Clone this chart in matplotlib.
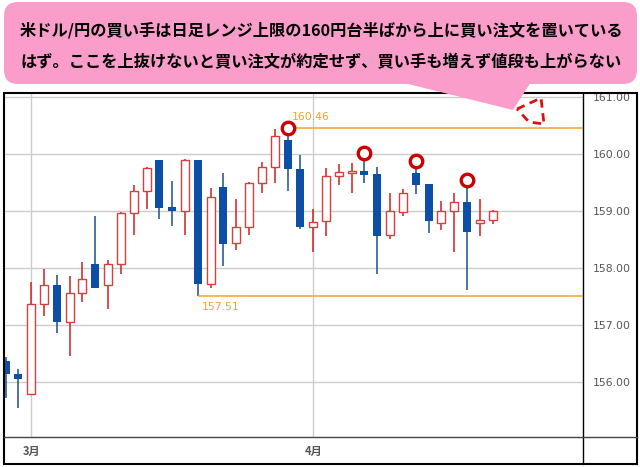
import numpy as np
import matplotlib
matplotlib.use("Agg")
import matplotlib.pyplot as plt
from matplotlib.patches import FancyBboxPatch, Polygon, Rectangle

plt.rcParams['font.family'] = ['Noto Sans CJK JP', 'DejaVu Sans']

# daily candles (USD/JPY)
opens = [156.38, 156.15, 155.79, 157.37, 157.71, 157.05, 157.56, 158.07, 157.70, 158.07,
         158.96, 159.36, 159.90, 159.07, 159.01, 159.90, 157.72, 159.42, 158.44, 158.72,
         159.49, 159.77, 160.25, 159.73, 158.73, 158.82, 159.61, 159.66, 159.70, 159.65,
         158.58, 158.99, 159.67, 159.48, 158.80, 159.01, 159.16, 158.80, 158.84]
highs = [156.45, 156.24, 157.76, 157.99, 157.88, 157.86, 158.10, 158.91, 158.14, 158.99,
         159.45, 159.77, 159.90, 159.52, 159.91, 159.90, 159.40, 159.67, 159.21, 159.51,
         159.86, 160.44, 160.46, 159.98, 159.03, 159.76, 159.83, 159.85, 160.02, 159.77,
         159.32, 159.39, 159.87, 159.48, 159.18, 159.32, 159.55, 159.22, 159.02]
lows = [155.73, 155.56, 155.79, 157.17, 156.87, 156.47, 157.40, 157.66, 157.28, 157.89,
        158.59, 159.03, 158.87, 158.74, 158.59, 157.51, 157.66, 158.04, 158.31, 158.59,
        159.31, 159.49, 159.36, 158.69, 158.29, 158.56, 159.45, 159.32, 159.50, 157.90,
        158.51, 158.91, 159.30, 158.62, 158.67, 158.29, 157.61, 158.57, 158.77]
closes = [156.14, 156.06, 157.37, 157.71, 157.05, 157.56, 157.81, 157.66, 158.07, 158.96,
          159.36, 159.75, 159.06, 159.01, 159.90, 157.72, 159.24, 158.43, 158.72, 159.49,
          159.77, 160.32, 159.74, 158.73, 158.81, 159.61, 159.68, 159.70, 159.64, 158.57,
          159.00, 159.31, 159.46, 158.82, 159.00, 159.16, 158.63, 158.84, 159.00]

yticks = [156, 157, 158, 159, 160, 161]
month_idx = [2, 24]
month_labels = ['3月', '4月']

range_high = 160.46
range_high_idx = 22
range_low = 157.51
range_low_idx = 15
marked = [22, 28, 32, 36]  # highs circled in red

title_lines = ['米ドル/円の買い手は日足レンジ上限の160円台半ばから上に買い注文を置いている',
               'はず。ここを上抜けないと買い注文が約定せず、買い手も増えず値段も上がらない']

BLUE = '#0d4ea6'
RED = '#dd3c3c'
ORANGE = '#f2a42a'

W, H = 640, 467
fig = plt.figure(figsize=(W / 100, H / 100), dpi=100)

# chart area in pixels: x 4..583, y 93..437
ax = fig.add_axes([4 / W, (H - 437) / H, (583 - 4) / W, (437 - 93) / H])
ax.set_xlim(-0.12, 45.05)
ax.set_ylim(155.044, 161.068)
for s in ax.spines.values():
    s.set_visible(False)

x = np.arange(len(opens))
o = np.array(opens); c = np.array(closes)
hi = np.array(highs); lo = np.array(lows)
up = c >= o

ax.set_yticks(yticks)
ax.set_yticklabels(['%.2f' % v for v in yticks], family='DejaVu Sans', fontsize=7.8, color='#555555')
ax.yaxis.tick_right()
ax.tick_params(axis='y', length=0, pad=7)
ax.set_xticks(month_idx)
ax.set_xticklabels(month_labels, fontsize=8, color='#555555', fontweight='bold')
ax.tick_params(axis='x', length=0, pad=6)
ax.grid(True, color='#cccccc', linewidth=1)
ax.set_axisbelow(True)

# wicks
ax.vlines(x[up], lo[up], hi[up], color='#cc2020', linewidth=1.1, zorder=2)
ax.vlines(x[~up], lo[~up], hi[~up], color='#1a4f8c', linewidth=1.1, zorder=2)
# bodies
w = 0.62
ax.bar(x[up], c[up] - o[up], bottom=o[up], width=w, facecolor='white',
       edgecolor=RED, linewidth=1, zorder=3)
ax.bar(x[~up], o[~up] - c[~up], bottom=c[~up], width=w, color=BLUE,
       linewidth=0, zorder=3)

# range lines
xmax = ax.get_xlim()[1]
ax.hlines(range_high, range_high_idx, xmax, color=ORANGE, linewidth=1.1, zorder=4)
ax.hlines(range_low, range_low_idx, xmax, color=ORANGE, linewidth=1.1, zorder=4)
ax.annotate('%.2f' % range_high, (range_high_idx, range_high), xytext=(3, 8),
            textcoords='offset points', color=ORANGE, fontsize=7.8,
            family='DejaVu Sans', va='center', ha='left')
ax.annotate('%.2f' % range_low, (range_low_idx, range_low), xytext=(3, -8),
            textcoords='offset points', color=ORANGE, fontsize=7.8,
            family='DejaVu Sans', va='center', ha='left')

ax.plot(x[marked], hi[marked], 'o', ms=9, mfc='white', mec='#cc0000', mew=2.4, zorder=5)

# overlay in pixel coordinates for frame and callout
ov = fig.add_axes([0, 0, 1, 1], zorder=10)
ov.set_xlim(0, W)
ov.set_ylim(H, 0)
ov.axis('off')
ov.patch.set_alpha(0)

ov.add_patch(Rectangle((4, 93), 633, 371, fill=False, edgecolor='black', linewidth=1.5))
ov.plot([583, 583], [93, 464], color='black', linewidth=1)
ov.plot([4, 637], [437, 437], color='#444444', linewidth=1)

PINK = '#fa9dcb'
ov.add_patch(FancyBboxPatch((4, 2), 633, 82, boxstyle='round,pad=0,rounding_size=14',
                            facecolor=PINK, edgecolor='none'))
ov.add_patch(Polygon([(400, 82), (531, 82), (513, 110)], closed=True,
                     facecolor=PINK, edgecolor='none'))
ov.add_patch(Polygon([(517, 109), (541, 98), (544, 124), (529, 122)], closed=True,
                     fill=False, edgecolor='#e01010', linewidth=2, linestyle=(0, (3, 2))))

ov.text(321, 30, title_lines[0], ha='center', va='center', fontsize=11.7,
        fontweight='bold', color='black')
ov.text(321, 62, title_lines[1], ha='center', va='center', fontsize=11.7,
        fontweight='bold', color='black')

fig.savefig('out.png', dpi=100)
